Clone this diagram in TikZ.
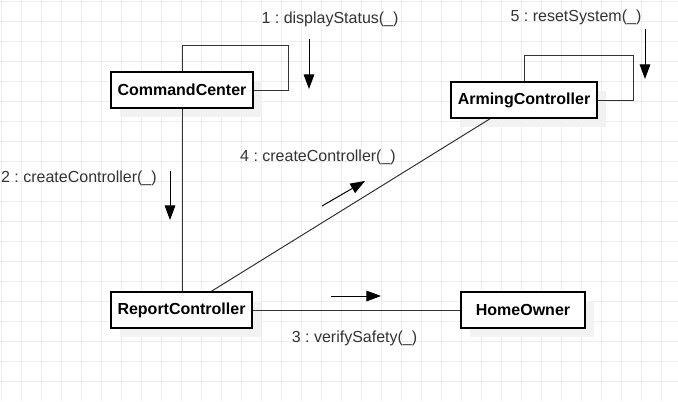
\documentclass[tikz,border=0pt]{standalone}
\usepackage{fontspec}
\setmainfont{Liberation Sans}
\usepackage{tikz}
\usetikzlibrary{calc,positioning,arrows.meta,shadows}
\definecolor{gridcol}{HTML}{EDEDED}
\definecolor{shadecol}{HTML}{F2F2F2}
\definecolor{txtcol}{HTML}{333333}
\frenchspacing

\begin{document}
\begin{tikzpicture}[x=0.75pt, y=-0.75pt,
            cls/.style={rectangle, draw=black, line width=1.1pt, fill=white,
                        font=\fontsize{12}{14}\selectfont\bfseries,
                        minimum height=27pt, inner sep=0pt,
                        drop shadow={shadow xshift=6.75pt, shadow yshift=-6.75pt,
                                     fill=shadecol, opacity=1}},
            link/.style={draw=black!80, line width=0.75pt},
            msg/.style={draw=black, line width=0.75pt,
                        -{Triangle[length=11pt, width=8pt]}},
            lbl/.style={font=\fontsize{12}{14}\selectfont, text=txtcol, inner sep=0pt}]
        \useasboundingbox (0,0) rectangle (678,401);
        % grid
        \foreach \gx in {1,21,...,661} \draw[gridcol, line width=0.75pt] (\gx,0) -- (\gx,401);
        \foreach \gy in {1,21,...,381} \draw[gridcol, line width=0.75pt] (0,\gy) -- (678,\gy);
        % objects
        \node[cls, minimum width=106.5pt] (cc) at (182,90)    {CommandCenter};
        \node[cls, minimum width=109.5pt] (ac) at (524,100)   {ArmingController};
        \node[cls, minimum width=105.75pt] (rc) at (181.5,310) {ReportController};
        \node[cls, minimum width=93pt]    (ho) at (523,310)   {HomeOwner};
        % links
        \draw[link] (cc.north) |- ++(106,-26) |- (cc.east);
        \draw[link] (ac.north) |- ++(109,-26) |- (ac.east);
        \draw[link] (cc.south) -- (cc.south |- rc.north);
        \draw[link] ($(rc.north west)!0.71!(rc.north east)$) -- ($(ac.south west)!0.27!(ac.south east)$);
        \draw[link] (rc.east) -- (ho.west);
        % messages
        \coordinate (m1a) at (309,39);  \coordinate (m1b) at (309,89);
        \coordinate (m2a) at (170,171); \coordinate (m2b) at (170,220);
        \coordinate (m3a) at (331,296); \coordinate (m3b) at (381,296);
        \coordinate (m4a) at (322,206); \coordinate (m4b) at (365,181);
        \coordinate (m5a) at (645,29);  \coordinate (m5b) at (645,79);
        \draw[msg] (m1a) -- (m1b);
        \draw[msg] (m2a) -- (m2b);
        \draw[msg] (m3a) -- (m3b);
        \draw[msg] (m4a) -- (m4b);
        \draw[msg] (m5a) -- (m5b);
        \node[lbl] (l1) at (330,19)  {1 : displayStatus(\_)};
        \node[lbl, anchor=east] (l2) at (157,178) {2 : createController(\_)};
        \node[lbl] (l3) at (354.5,338) {3 : verifySafety(\_)};
        \node[lbl] (l4) at (318,157) {4 : createController(\_)};
        \node[lbl] (l5) at (576,17)  {5 : resetSystem(\_)};
      \end{tikzpicture}
\end{document}
